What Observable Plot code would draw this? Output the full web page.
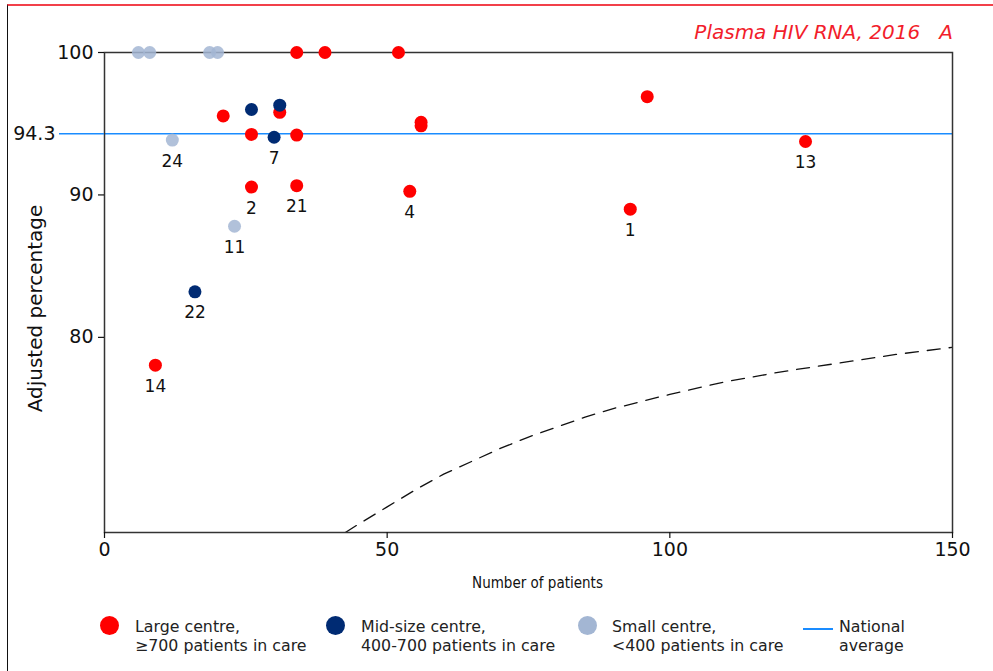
<!DOCTYPE html>
<html>
<head>
<meta charset="utf-8">
<script src="https://cdn.jsdelivr.net/npm/d3@7"></script>
<script src="https://cdn.jsdelivr.net/npm/@observablehq/plot@0.6"></script>
<style>
  html, body { margin: 0; padding: 0; background: #fff; }
  body { width: 993px; height: 671px; position: relative; overflow: hidden; font-family: "DejaVu Sans", Verdana, sans-serif; }
  #border { position: absolute; left: 7px; top: 4px; right: 0; bottom: 0; border-top: 2px solid #f2404a; border-left: 1.5px solid #111; pointer-events: none; }
  #chart { position: absolute; left: 0; top: 0; }
  #title { position: absolute; top: 20px; right: 40px; font-size: 20px; font-style: italic; color: #f21d2b; white-space: pre; line-height: 24px; }
  .leg { position: absolute; font-size: 15.8px; line-height: 19px; color: #222; white-space: pre; }
  .legdot { position: absolute; width: 19px; height: 19px; border-radius: 50%; }
  .legline { position: absolute; height: 2px; background: #1a8cff; }
</style>
</head>
<body>
<div id="chart"></div>
<div id="title">Plasma HIV RNA, 2016   A</div>
<div id="legend"></div>
<div id="border"></div>
<script>
// ---- data ----
const centreTypes = ["Large", "Mid-size", "Small"];
const centreColours = ["#ff0000", "#002b73", "#a3b6d3"];
const legendLabels = ["Large centre,\n\u2265700 patients in care", "Mid-size centre,\n400-700 patients in care", "Small centre,\n<400 patients in care"];
const nationalLabel = "National\naverage";

const patients = [34, 39, 52, 21, 31, 26, 34, 26, 34, 56, 56, 54, 93, 96, 124, 9,
                  26, 31, 30, 16,
                  6, 8, 18.6, 20, 12, 23];
const percentage = [100, 100, 100, 95.55, 95.8, 94.25, 94.2, 90.55, 90.65, 95.1, 94.85, 90.25, 89.0, 96.9, 93.75, 78.05,
                    96.0, 96.3, 94.05, 83.2,
                    100, 100, 100, 100, 93.85, 87.8];
const centre = ["Large","Large","Large","Large","Large","Large","Large","Large","Large","Large","Large","Large","Large","Large","Large","Large",
                "Mid-size","Mid-size","Mid-size","Mid-size",
                "Small","Small","Small","Small","Small","Small"];
const centreId = ["","","","","","","","2","21","","","4","1","","13","14",
                  "","","7","22",
                  "","","","","24","11"];

const nationalAverage = 94.3;

// lower control limit (dashed)
const limitPatients = [42.6, 45, 50, 55, 60, 65, 70, 75, 80, 85, 90, 95, 100, 110, 120, 130, 140, 150];
const limitPercent  = [66.3, 66.9, 68.1, 69.3, 70.4, 71.3, 72.2, 73.0, 73.7, 74.4, 75.0, 75.5, 76.0, 76.9, 77.6, 78.2, 78.8, 79.3];

const xTicks = [0, 50, 100, 150];
const yTicks = [80, 90, 100];

// ---- build ----
const points = patients.map((p, i) => ({patients: p, pct: percentage[i], centre: centre[i], id: centreId[i]}));
const limit = limitPatients.map((p, i) => ({patients: p, pct: limitPercent[i]}));

const chart = Plot.plot({
  width: 993,
  height: 600,
  marginLeft: 104,
  marginRight: 41,
  marginTop: 52,
  marginBottom: 68,
  style: { fontFamily: "DejaVu Sans, Verdana, sans-serif", fontSize: "19px", background: "transparent", color: "#111" },
  x: { domain: [0, 150] },
  y: { domain: [66.3, 100] },
  color: { domain: centreTypes, range: centreColours },
  marks: [
    Plot.ruleY([nationalAverage], { stroke: "#1a8cff", strokeWidth: 1.5 }),
    Plot.line(limit, { x: "patients", y: "pct", stroke: "#111", strokeWidth: 1.3, strokeDasharray: "13,9", clip: true }),
    Plot.frame({ stroke: "#333", strokeWidth: 1.5 }),
    Plot.axisX({ ticks: xTicks, tickSize: 6, tickPadding: 4, fontSize: 19, label: null, strokeWidth: 1.2 }),
    Plot.axisY({ ticks: yTicks, tickSize: 6, tickPadding: 5, fontSize: 19, label: null, tickFormat: d => String(d), strokeWidth: 1.2 }),
    Plot.axisY({ ticks: [nationalAverage], tickSize: 45, tickPadding: 4, fontSize: 19, label: null, stroke: "#1a8cff", fill: "#111", strokeWidth: 1.5, tickFormat: d => d.toFixed(1) }),
    Plot.dot(points.filter(d => d.centre !== "Small"), { x: "patients", y: "pct", fill: "centre", r: 6.5, stroke: "none" }),
    Plot.dot(points.filter(d => d.centre === "Small"), { x: "patients", y: "pct", fill: "centre", r: 6.5, fillOpacity: 0.85, stroke: "none" }),
    Plot.text(points.filter(d => d.id !== ""), { x: "patients", y: "pct", text: "id", dy: 21, fontSize: 17, fill: "#111" }),
    Plot.text(["Adjusted percentage"], { frameAnchor: "left", textAnchor: "middle", rotate: -90, dx: -69, dy: 16, fontSize: 20, fill: "#111" }),
    Plot.text(["Number of patients"], { frameAnchor: "bottom", dx: 9, dy: 55, fontSize: 15, fill: "#111", fontFamily: "DejaVu Sans Condensed, DejaVu Sans, sans-serif", fontStretch: "condensed" })
  ]
});
document.getElementById("chart").appendChild(chart);

// ---- legend ----
const legend = document.getElementById("legend");
const dotX = [100, 326, 578];
const textX = [135, 361, 612];
centreTypes.forEach((c, i) => {
  const dot = document.createElement("div");
  dot.className = "legdot";
  dot.style.left = dotX[i] + "px";
  dot.style.top = "616px";
  dot.style.background = centreColours[i];
  legend.appendChild(dot);
  const t = document.createElement("div");
  t.className = "leg";
  t.style.left = textX[i] + "px";
  t.style.top = "617px";
  t.textContent = legendLabels[i];
  legend.appendChild(t);
});
const ln = document.createElement("div");
ln.className = "legline";
ln.style.left = "803px"; ln.style.width = "30px"; ln.style.top = "628px";
legend.appendChild(ln);
const lt = document.createElement("div");
lt.className = "leg";
lt.style.left = "839px"; lt.style.top = "617px";
lt.textContent = nationalLabel;
legend.appendChild(lt);
</script>
</body>
</html>
